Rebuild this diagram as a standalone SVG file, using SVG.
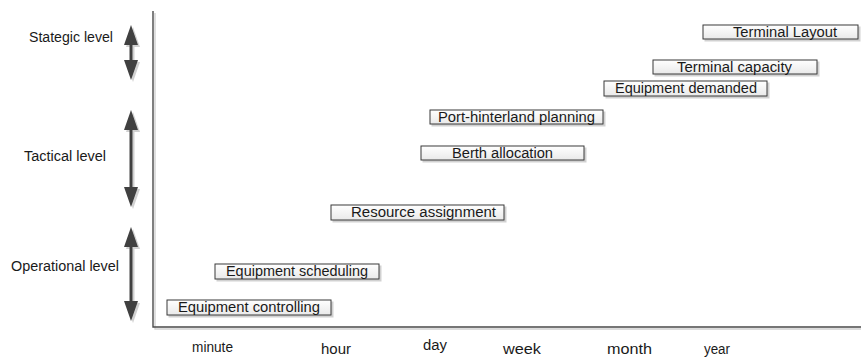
<svg xmlns="http://www.w3.org/2000/svg" width="861" height="357" viewBox="0 0 861 357">
  <style>
    text { font-family: "Liberation Sans", Arial, sans-serif; font-size: 14px; fill: #1a1a1a; }
    .box { fill: url(#boxFill); stroke: #3a3a3a; stroke-width: 1; filter: url(#shadow); }
    .axis { stroke: #4a4a4a; stroke-width: 1.4; fill: none; filter: url(#shadow); }
    .span { stroke: #404040; stroke-width: 3; fill: none; marker-start: url(#head); marker-end: url(#head); }
    .spans { filter: url(#shadow); }
  </style>
  <defs>
    <linearGradient id="boxFill" x1="0" y1="0" x2="0" y2="1">
      <stop offset="0" stop-color="#ffffff"/>
      <stop offset="1" stop-color="#e9e9e9"/>
    </linearGradient>
    <filter id="shadow" filterUnits="userSpaceOnUse" x="0" y="0" width="861" height="357">
      <feDropShadow dx="2" dy="2" stdDeviation="0.7" flood-color="#000000" flood-opacity="0.18"/>
    </filter>
    <marker id="head" markerUnits="userSpaceOnUse" markerWidth="20" markerHeight="14" viewBox="0 0 20 14" refX="0" refY="7" orient="auto-start-reverse">
      <path d="M0,0 L20,7 L0,14 Z" fill="#404040"/>
    </marker>
  </defs>

  <rect width="861" height="357" fill="#ffffff"/>

  <!-- axes and level spans -->
  <g id="connectors">
    <polyline class="axis" points="153,11 153,327 861,327"/>
    <g class="spans">
      <line class="span" x1="131" y1="45" x2="131" y2="60"/>
      <line class="span" x1="131" y1="130" x2="131" y2="187"/>
      <line class="span" x1="131" y1="247" x2="131" y2="301"/>
    </g>
  </g>

  <!-- level labels -->
  <g id="levels">
    <text x="29" y="42" textLength="84" lengthAdjust="spacingAndGlyphs">Stategic level</text>
    <text x="24" y="161" textLength="82" lengthAdjust="spacingAndGlyphs">Tactical level</text>
    <text x="11" y="271" textLength="108" lengthAdjust="spacingAndGlyphs">Operational level</text>
  </g>

  <!-- time scale -->
  <g id="timescale">
    <text x="192" y="352" textLength="41" lengthAdjust="spacingAndGlyphs">minute</text>
    <text x="321" y="354" textLength="30" lengthAdjust="spacingAndGlyphs">hour</text>
    <text x="423" y="350" textLength="24" lengthAdjust="spacingAndGlyphs">day</text>
    <text x="503" y="354" textLength="38" lengthAdjust="spacingAndGlyphs">week</text>
    <text x="607" y="354" textLength="45" lengthAdjust="spacingAndGlyphs">month</text>
    <text x="704" y="354" textLength="26" lengthAdjust="spacingAndGlyphs">year</text>
  </g>

  <!-- decision problems -->
  <g id="terminal-layout">
    <rect class="box" x="703" y="25" width="155" height="14"/>
    <text x="733" y="36.5" textLength="104" lengthAdjust="spacingAndGlyphs">Terminal Layout</text>
  </g>
  <g id="terminal-capacity">
    <rect class="box" x="653" y="60" width="164" height="14"/>
    <text x="677" y="71.5" textLength="115" lengthAdjust="spacingAndGlyphs">Terminal capacity</text>
  </g>
  <g id="equipment-demanded">
    <rect class="box" x="604" y="81" width="163" height="15"/>
    <text x="615" y="93" textLength="142" lengthAdjust="spacingAndGlyphs">Equipment demanded</text>
  </g>
  <g id="port-hinterland-planning">
    <rect class="box" x="430" y="110" width="173" height="14"/>
    <text x="438" y="121.5" textLength="157" lengthAdjust="spacingAndGlyphs">Port-hinterland planning</text>
  </g>
  <g id="berth-allocation">
    <rect class="box" x="421" y="146" width="163" height="14"/>
    <text x="452" y="157.5" textLength="101" lengthAdjust="spacingAndGlyphs">Berth allocation</text>
  </g>
  <g id="resource-assignment">
    <rect class="box" x="331" y="205" width="173" height="15"/>
    <text x="351" y="217" textLength="145" lengthAdjust="spacingAndGlyphs">Resource assignment</text>
  </g>
  <g id="equipment-scheduling">
    <rect class="box" x="215" y="264" width="164" height="15"/>
    <text x="226" y="276" textLength="142" lengthAdjust="spacingAndGlyphs">Equipment scheduling</text>
  </g>
  <g id="equipment-controlling">
    <rect class="box" x="167" y="300" width="164" height="15"/>
    <text x="178" y="312" textLength="142" lengthAdjust="spacingAndGlyphs">Equipment controlling</text>
  </g>
</svg>
